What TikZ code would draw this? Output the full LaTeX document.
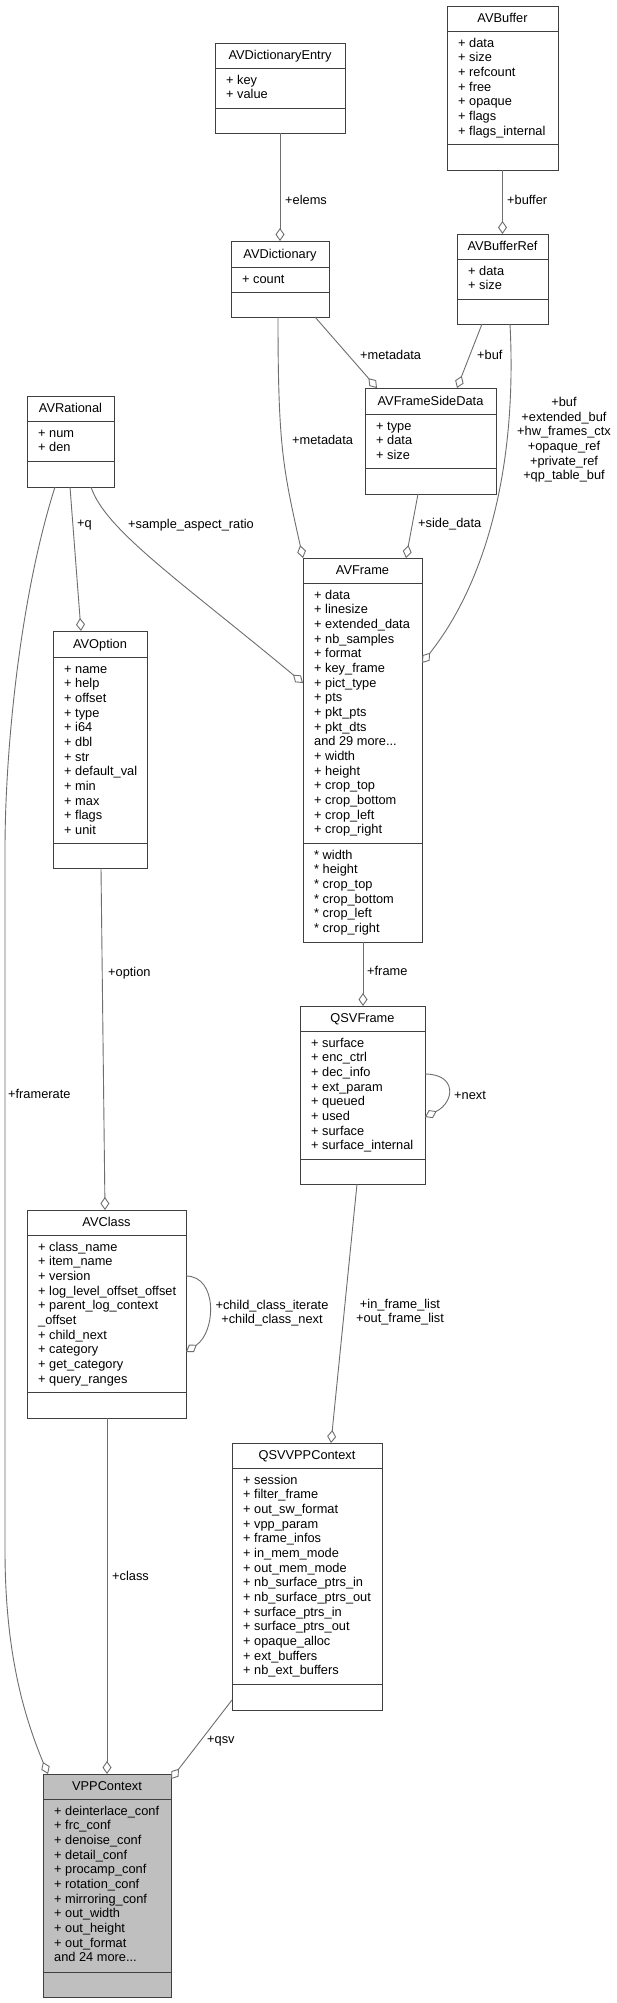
\documentclass[tikz,border=0pt]{standalone}
\usepackage{fontspec}
\setmainfont{Liberation Sans}
\usetikzlibrary{arrows.meta}
\definecolor{boxline}{HTML}{404040}
\definecolor{conn}{HTML}{6E6E6E}
\definecolor{vppfill}{HTML}{BFBFBF}
\newcommand\umldots{...}
\tikzset{
  classbox/.style={draw=boxline, line width=1pt, fill=white, inner sep=0pt, outer sep=0pt},
  sepline/.style={draw=boxline, line width=1pt},
  txt/.style={font=\fontsize{12.8}{14.67}\selectfont, inner sep=0pt, text=black},
  lbl/.style={txt},
  assoc/.style={draw=conn, line width=0.9pt, -{Diamond[open, length=13pt, width=9pt]}}
}
\newcommand\umlclass[9][]{%
  \pgfmathsetmacro\umlw{#5-#3}%
  \pgfmathsetmacro\umlh{#6-#4}%
  \node[classbox,#1,minimum width=\umlw pt,minimum height=\umlh pt,anchor=north west] (#2) at (#3,#4) {};
  \draw[sepline] (#3,#7) -- (#5,#7);
  \draw[sepline] (#3,#8) -- (#5,#8);
  \node[txt,anchor=base] (#2-title) at ({(#3+#5)/2},{(#4+#7)/2+4}) {#9};
}
\newcommand\umllines[4]{%
  \foreach \umlt [count=\umli from 0] in {#4}{
    \node[txt,anchor=base west] (#1-\umli) at ({#2+11},{#3+16+\umli*14.67}) {\umlt};
  }
}
\begin{document}
\begin{tikzpicture}[x=1pt,y=-1pt]
\fill[white] (0,0) rectangle (617,2003);
\useasboundingbox (0,0) rectangle (617,2003);

% classes
\umlclass{dictentry}{215}{43}{345}{133}{68}{108}{AVDictionaryEntry}
\umllines{dictentry-a}{215}{68}{+ key, + value}

\umlclass{avbuffer}{447}{6}{558}{170}{31}{144}{AVBuffer}
\umllines{avbuffer-a}{447}{31}{+ data, + size, + refcount, + free, + opaque, + flags, + flags\_internal}

\umlclass{avdict}{231}{241}{329}{317}{267}{292}{AVDictionary}
\umllines{avdict-a}{231}{267}{+ count}

\umlclass{bufref}{457}{234}{548}{324}{259}{299}{AVBufferRef}
\umllines{bufref-a}{457}{259}{+ data, + size}

\umlclass{avrational}{27}{396}{114}{487}{421}{461}{AVRational}
\umllines{avrational-a}{27}{421}{+ num, + den}

\umlclass{sidedata}{365}{388}{496}{494}{414}{468}{AVFrameSideData}
\umllines{sidedata-a}{365}{414}{+ type, + data, + size}

\umlclass{avframe}{303}{558}{422}{942}{583}{843}{AVFrame}
\umllines{avframe-a}{303}{583}{+ data, + linesize, + extended\_data, + nb\_samples, + format, + key\_frame, + pict\_type, + pts, + pkt\_pts, + pkt\_dts, and 29 more\umldots, + width, + height, + crop\_top, + crop\_bottom, + crop\_left, + crop\_right}
\umllines{avframe-m}{303}{843}{* width, * height, * crop\_top, * crop\_bottom, * crop\_left, * crop\_right}

\umlclass{avoption}{53}{631}{147}{868}{657}{843}{AVOption}
\umllines{avoption-a}{53}{657}{+ name, + help, + offset, + type, + i64, + dbl, + str, + default\_val, + min, + max, + flags, + unit}

\umlclass{qsvframe}{300}{1006}{425}{1184}{1031}{1159}{QSVFrame}
\umllines{qsvframe-a}{300}{1031}{+ surface, + enc\_ctrl, + dec\_info, + ext\_param, + queued, + used, + surface, + surface\_internal}

\umlclass{avclass}{27}{1210}{186}{1418}{1235}{1392}{AVClass}
\umllines{avclass-a}{27}{1235}{+ class\_name, + item\_name, + version, + log\_level\_offset\_offset, + parent\_log\_context, \_offset, + child\_next, + category, + get\_category, + query\_ranges}

\umlclass{qsvvpp}{232}{1443}{382}{1710}{1468}{1684}{QSVVPPContext}
\umllines{qsvvpp-a}{232}{1468}{+ session, + filter\_frame, + out\_sw\_format, + vpp\_param, + frame\_infos, + in\_mem\_mode, + out\_mem\_mode, + nb\_surface\_ptrs\_in, + nb\_surface\_ptrs\_out, + surface\_ptrs\_in, + surface\_ptrs\_out, + opaque\_alloc, + ext\_buffers, + nb\_ext\_buffers}

\umlclass[fill=vppfill]{vpp}{43}{1774}{171}{1997}{1799}{1972}{VPPContext}
\umllines{vpp-a}{43}{1799}{+ deinterlace\_conf, + frc\_conf, + denoise\_conf, + detail\_conf, + procamp\_conf, + rotation\_conf, + mirroring\_conf, + out\_width, + out\_height, + out\_format, and 24 more\umldots}

% waypoints
\coordinate (fr1) at (5,850);
\coordinate (fr2) at (5,1550);

% connectors
\draw[assoc] (dictentry.south) -- (avdict.north);
\draw[assoc] (avbuffer.south) -- (bufref.north);
\draw[assoc] ([xshift=84pt]avdict.south west) -- ([xshift=12pt]sidedata.north west);
\draw[assoc] ([xshift=25pt]bufref.south west) -- ([xshift=92pt]sidedata.north west);
\draw[assoc] ([xshift=47pt]avdict.south west) .. controls +(0,130) and +(-20,-90) .. (avframe.north west);
\draw[assoc] ([xshift=53pt]sidedata.south west) -- ([xshift=103pt]avframe.north west);
\draw[assoc] ([xshift=53pt]bufref.south west) .. controls +(8,156) and +(58,-73) .. ([yshift=-105pt]avframe.north east);
\draw[assoc] ([xshift=43pt]avrational.south west) -- ([xshift=28pt]avoption.north west);
\draw[assoc] ([xshift=64pt]avrational.south west) .. controls +(14,43) and +(-120,-100) .. ([yshift=-125pt]avframe.north west);
\draw[assoc] ([xshift=28pt]avrational.south west) .. controls +(-35,110) and +(0,-100) .. (fr1) -- (fr2) .. controls +(0,100) and +(-25,-60) .. ([xshift=5pt]vpp.north west);
\draw[assoc] ([xshift=48pt]avoption.south west) -- ([xshift=78pt]avclass.north west);
\draw[assoc] ([xshift=60pt]avframe.south west) -- ([xshift=63pt]qsvframe.north west);
\draw[assoc] ([yshift=-68pt]qsvframe.north east) .. controls +(32,0) and +(30,-15) .. ([yshift=-111pt]qsvframe.north east);
\draw[assoc] ([yshift=-66pt]avclass.north east) .. controls +(32,0) and +(30,-20) .. ([yshift=-142pt]avclass.north east);
\draw[assoc] ([xshift=57pt]qsvframe.south west) -- ([xshift=99pt]qsvvpp.north west);
\draw[assoc] ([xshift=80pt]avclass.south west) -- ([xshift=64pt]vpp.north west);
\draw[assoc] ([yshift=10pt]qsvvpp.south west) -- ([yshift=-5pt]vpp.north east);

% labels
\node[lbl,anchor=west] (l-elems) at (285,200) {+elems};
\node[lbl,anchor=west] (l-buffer) at (507,200) {+buffer};
\node[lbl,anchor=west] (l-meta1) at (360,355) {+metadata};
\node[lbl,anchor=west] (l-buf1) at (477,355) {+buf};
\node[lbl,anchor=west] (l-meta2) at (292,440) {+metadata};
\node[lbl,align=center] (l-bufs) at (564,440) {+buf\\+extended\_buf\\+hw\_frames\_ctx\\+opaque\_ref\\+private\_ref\\+qp\_table\_buf};
\node[lbl,anchor=west] (l-side) at (418,524) {+side\_data};
\node[lbl,anchor=west] (l-q) at (77,525) {+q};
\node[lbl,anchor=west] (l-sar) at (128,525) {+sample\_aspect\_ratio};
\node[lbl,anchor=west] (l-option) at (108,973) {+option};
\node[lbl,anchor=west] (l-frame) at (367,971) {+frame};
\node[lbl,anchor=west] (l-next) at (454,1095) {+next};
\node[lbl,align=center] (l-child) at (272,1313) {+child\_class\_iterate\\+child\_class\_next};
\node[lbl,align=center] (l-flist) at (400,1312) {+in\_frame\_list\\+out\_frame\_list};
\node[lbl,anchor=west] (l-framerate) at (8,1094) {+framerate};
\node[lbl,anchor=west] (l-class) at (112,1576) {+class};
\node[lbl,anchor=west] (l-qsv) at (207,1741) {+qsv};
\end{tikzpicture}
\end{document}
